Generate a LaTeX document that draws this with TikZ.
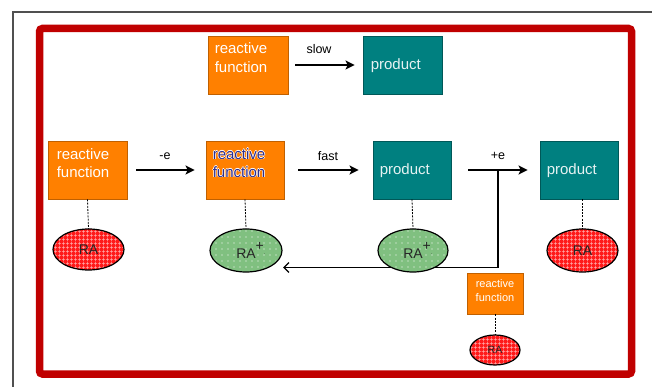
\documentclass[tikz,border=0pt]{standalone}
\usepackage{fontspec}
\setmainfont{Liberation Sans}
\usetikzlibrary{arrows.meta,shapes.geometric,patterns.meta}

\definecolor{frameRed}{HTML}{C00000}
\definecolor{frameGray}{HTML}{505050}
\definecolor{boxOrange}{HTML}{FF8000}
\definecolor{boxOrangeEdge}{HTML}{C06000}
\definecolor{boxTeal}{HTML}{008080}
\definecolor{boxTealEdge}{HTML}{005858}
\definecolor{ovalRed}{HTML}{FF1A1A}
\definecolor{ovalGreen}{HTML}{80C080}
\definecolor{inkBlue}{HTML}{2E2E8C}
\definecolor{paleText}{HTML}{E6F2F2}

\newcommand{\bigfont}{\fontsize{15}{18}\selectfont}
\newcommand{\tagfont}{\fontsize{12.5}{15}\selectfont}
\newcommand{\smallfont}{\fontsize{11}{13}\selectfont}
\newcommand{\ovalfont}{\fontsize{14}{16}\selectfont}
% blue text with a white halo
\newcommand{\halo}[1]{%
  \leavevmode\rlap{\color{white}\hspace*{-0.7pt}#1}%
  \rlap{\color{white}\hspace*{0.7pt}#1}%
  \rlap{\color{white}\raisebox{0.7pt}{#1}}%
  \rlap{\color{white}\raisebox{-0.7pt}{#1}}%
  {\color{inkBlue}#1}}
% radical cation mark after a label
\newcommand{\cation}{\rlap{\raisebox{1.0ex}{+}\raisebox{0.45ex}{\tiny.}}}

\tikzset{
  orangebox/.style={rectangle, inner sep=0pt, fill=boxOrange, draw=boxOrangeEdge, line width=0.8pt},
  tealbox/.style={rectangle, inner sep=0pt, fill=boxTeal, draw=boxTealEdge, line width=0.8pt},
  boxtext/.style={anchor=base west, inner sep=0pt, font=\bigfont, text=white},
  prodtext/.style={anchor=base west, inner sep=0pt, font=\bigfont, text=paleText},
  tagtext/.style={inner sep=0pt, font=\tagfont, text=black},
  ovaltext/.style={inner sep=0pt, font=\ovalfont, text=black!85},
  redoval/.style={ellipse, inner sep=0pt, draw=black, line width=1.2pt,
    preaction={fill=ovalRed},
    pattern={Hatch[distance=4pt, angle=0, line width=0.7pt]}, pattern color=white!65!ovalRed},
  greenoval/.style={ellipse, inner sep=0pt, draw=black, line width=1.2pt,
    preaction={fill=ovalGreen},
    pattern={Dots[distance=6pt, radius=0.55pt]}, pattern color=white},
  flow/.style={line width=2pt, -{Stealth[length=9pt, width=9pt, inset=2pt]}},
  backflow/.style={line width=1.3pt, -{Straight Barb[length=5pt, width=10pt]}},
  tether/.style={line width=0.8pt, dash pattern=on 2pt off 1.2pt},
}

\begin{document}
\begin{tikzpicture}[x=1pt, y=-1pt]
\useasboundingbox (0,0) rectangle (652,387);
\clip (0,0) rectangle (652,387);
\fill[white] (0,0) rectangle (652,387);

% page frames
\draw[frameGray, line width=2pt] (12.5,400) -- (12.5,12) -- (670,12);
\draw[frameRed, line width=7.5pt, rounded corners=3pt] (39.5,28.5) rectangle (631.5,374);

% boxes
\node[orangebox, minimum width=80pt, minimum height=58pt] (t1) at (248,65) {};
\node[tealbox, minimum width=79pt, minimum height=58pt] (t2) at (402.5,65) {};
\node[orangebox, minimum width=79pt, minimum height=58pt] (a) at (87.5,170) {};
\node[orangebox, minimum width=78pt, minimum height=58pt] (b) at (245,170) {};
\node[tealbox, minimum width=78pt, minimum height=58pt] (c) at (412,170) {};
\node[tealbox, minimum width=78pt, minimum height=58pt] (d) at (579,170) {};
\node[orangebox, minimum width=56pt, minimum height=41pt] (e) at (495,293.5) {};

% box texts
\node[boxtext] (t1l1) at ([shift={(7,17.5)}]t1.north west) {reactive};
\node[boxtext] (t1l2) at ([shift={(7,36.5)}]t1.north west) {function};
\node[prodtext] (t2l) at ([shift={(8,33.5)}]t2.north west) {product};
\node[boxtext] (al1) at ([shift={(9,18.5)}]a.north west) {reactive};
\node[boxtext] (al2) at ([shift={(9,36.5)}]a.north west) {function};
\node[boxtext] (bl1) at ([shift={(7,18.5)}]b.north west) {\halo{reactive}};
\node[boxtext] (bl2) at ([shift={(7,36.5)}]b.north west) {\halo{function}};
\node[prodtext] (cl) at ([shift={(7,34)}]c.north west) {product};
\node[prodtext] (dl) at ([shift={(7,34)}]d.north west) {product};
\node[inner sep=0pt, font=\smallfont, text=white, anchor=base] (el1) at (495,287.5) {reactive};
\node[inner sep=0pt, font=\smallfont, text=white, anchor=base] (el2) at (495,301) {function};

% return path from the +e step back to the oxidised species
\coordinate (jstart) at (477,170);
\coordinate (jturn) at (498,170);
\coordinate (backend) at (283,267.5);
\draw[backflow] (jstart) -- (jturn) |- (backend);

% radical anion / cation markers
\node[redoval, minimum width=71pt, minimum height=41pt] (ra) at (88.5,249.5) {};
\node[greenoval, minimum width=72pt, minimum height=43pt] (rb) at (246,250.5) {};
\node[greenoval, minimum width=70pt, minimum height=43pt] (rc) at (413,250.5) {};
\node[redoval, minimum width=71pt, minimum height=43pt] (rd) at (582.5,250.5) {};
\node[redoval, minimum width=50pt, minimum height=30pt] (re) at (495,350) {};

\node[ovaltext] (rat) at (ra) {RA};
\node[ovaltext] (rbt) at (rb) {RA\cation};
\node[ovaltext] (rct) at (rc) {RA\cation};
\node[ovaltext] (rdt) at (rd) {RA};
\node[ovaltext, font=\fontsize{10.5}{12}\selectfont] (ret) at (re) {RA};

% tethers between boxes and markers
\draw[tether] (a.south) -- (ra.north);
\draw[tether] (b.south) -- (rb.north);
\draw[tether] (c.south) -- (rc.north);
\draw[tether] (d.south -| rd.north) -- (rd.north);
\draw[tether] (e.south) -- (re.north);

% reaction arrows
\draw[flow, shorten <=7pt, shorten >=8pt] (t1.east) -- (t2.west);
\draw[flow, shorten <=9pt, shorten >=11pt] (a.east) -- (b.west);
\draw[flow, shorten <=14pt, shorten >=14pt] (b.east) -- (c.west);
\draw[flow, shorten <=17pt, shorten >=12pt] (c.east) -- (d.west);

% arrow labels
\node[tagtext] (slow) at (319,49) {slow};
\node[tagtext] (ox) at (165,156) {-e};
\node[tagtext] (fast) at (328,156) {fast};
\node[tagtext] (red) at (498,156) {+e};
\end{tikzpicture}
\end{document}
